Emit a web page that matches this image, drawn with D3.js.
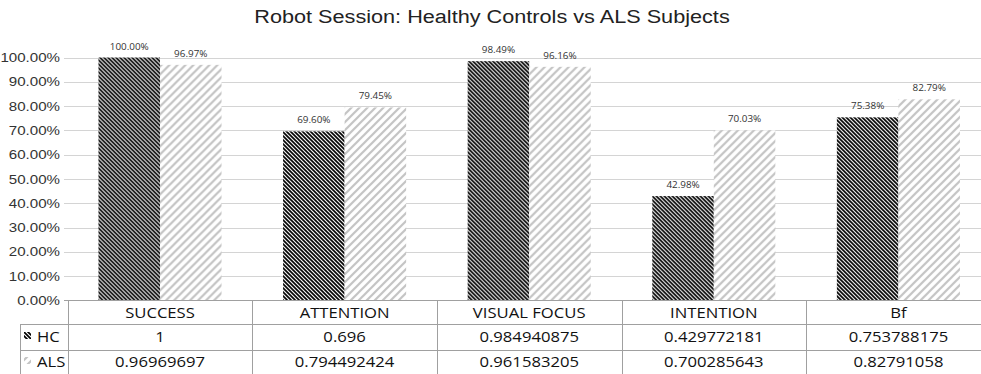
<!DOCTYPE html>
<html>
<head>
<meta charset="utf-8">
<script src="https://cdn.jsdelivr.net/npm/d3@7"></script>
<style>
  html, body { margin: 0; padding: 0; background: #fff; }
  svg { display: block; }
</style>
</head>
<body>
<div id="chart"></div>
<script>
// Chart data
const title = "Robot Session: Healthy Controls vs ALS Subjects";
const categories = ["SUCCESS", "ATTENTION", "VISUAL FOCUS", "INTENTION", "Bf"];
const seriesNames = ["HC", "ALS"];
const hcValues = [1, 0.696, 0.984940875, 0.429772181, 0.753788175];
const alsValues = [0.96969697, 0.794492424, 0.961583205, 0.700285643, 0.82791058];
const yTicks = [0, 0.1, 0.2, 0.3, 0.4, 0.5, 0.6, 0.7, 0.8, 0.9, 1.0];

const W = 981, H = 374;
const SX = 1.19; // horizontal text stretch

const svg = d3.select("#chart").append("svg")
  .attr("width", W).attr("height", H)
  .style("background", "#fff");

// Fill patterns for the two series
const defs = svg.append("defs");
const pHC = defs.append("pattern").attr("id", "pat-hc")
  .attr("patternUnits", "userSpaceOnUse").attr("width", 4).attr("height", 4);
pHC.append("rect").attr("width", 4).attr("height", 4).attr("fill", "#fff");
pHC.append("path").attr("d", "M0,0L4,4M-1,3L1,5M3,-1L5,1")
  .attr("stroke", "#000").attr("stroke-width", 1.7).attr("fill", "none");

const pALS = defs.append("pattern").attr("id", "pat-als")
  .attr("patternUnits", "userSpaceOnUse").attr("width", 8).attr("height", 8);
pALS.append("rect").attr("width", 8).attr("height", 8).attr("fill", "#fff");
pALS.append("path").attr("d", "M0,8L8,0M-2,2L2,-2M6,10L10,6")
  .attr("stroke", "#c4c4c4").attr("stroke-width", 2.2).attr("fill", "none");

const fills = ["url(#pat-hc)", "url(#pat-als)"];
const series = [hcValues, alsValues];

// Scales
const x0 = d3.scaleBand().domain(categories).range([67.7, 990.7])
  .paddingInner(1 / 3).paddingOuter(1 / 6);
const x1 = d3.scaleBand().domain(seriesNames).range([0, x0.bandwidth()]);
const y = d3.scaleLinear().domain([0, 1]).range([300.5, 57.5]);

function stretched(sel, x, yy) {
  return sel.attr("transform", `translate(${x},${yy}) scale(${SX},1)`);
}

// Title
stretched(svg.append("text"), 492, 23)
  .attr("text-anchor", "middle")
  .attr("font-family", "'Liberation Sans', Arial, sans-serif")
  .attr("font-size", 18.2).attr("fill", "#222")
  .text(title);

// Gridlines
svg.append("g").selectAll("line").data(yTicks.filter(d => d > 0)).join("line")
  .attr("x1", 64).attr("x2", W)
  .attr("y1", d => Math.round(y(d)) + 0.5).attr("y2", d => Math.round(y(d)) + 0.5)
  .attr("stroke", "#d4d4d4").attr("stroke-width", 1);

// Y axis labels
const yFmt = d3.format(".2%");
svg.append("g").selectAll("text").data(yTicks).join("text")
  .each(function (d) { stretched(d3.select(this), 60, y(d) + 4.5); })
  .attr("text-anchor", "end")
  .attr("font-family", "'Liberation Sans', Arial, sans-serif")
  .attr("font-size", 12.7).attr("fill", "#333")
  .text(d => yFmt(d));

// Bars
const groups = svg.append("g").selectAll("g").data(categories).join("g")
  .attr("transform", d => `translate(${x0(d)},0)`);
groups.selectAll("rect").data((c, i) => seriesNames.map((s, k) => ({ s, k, v: series[k][i] })))
  .join("rect")
  .attr("x", d => x1(d.s)).attr("width", x1.bandwidth())
  .attr("y", d => y(d.v)).attr("height", d => y(0) - y(d.v))
  .attr("fill", d => fills[d.k]);

// Data labels
groups.selectAll("text").data((c, i) => seriesNames.map((s, k) => ({ s, k, v: series[k][i] })))
  .join("text")
  .each(function (d) { stretched(d3.select(this), x1(d.s) + x1.bandwidth() / 2, y(d.v) - 8); })
  .attr("text-anchor", "middle")
  .attr("font-family", "'Open Sans', sans-serif")
  .attr("font-size", 8.3).attr("fill", "#333")
  .text(d => yFmt(d.v));

// Data table under the plot
const rowBottom = 375;
const tableLeft = 20;
const lineColor = "#a0a0a0";
const tg = svg.append("g");

// horizontal rules
tg.append("line").attr("x1", 64).attr("x2", W).attr("y1", 300.5).attr("y2", 300.5)
  .attr("stroke", lineColor);
[324.5, 350.5].forEach(yy => {
  tg.append("line").attr("x1", tableLeft).attr("x2", W).attr("y1", yy).attr("y2", yy)
    .attr("stroke", lineColor);
});
// vertical rules
tg.append("line").attr("x1", 68.5).attr("x2", 68.5).attr("y1", 300.5).attr("y2", rowBottom)
  .attr("stroke", lineColor);
tg.append("line").attr("x1", tableLeft + 0.5).attr("x2", tableLeft + 0.5).attr("y1", 324.5).attr("y2", rowBottom)
  .attr("stroke", lineColor);
categories.slice(1).forEach(c => {
  const xx = Math.round(x0(c) - x0.step() * x0.paddingInner() / 2) + 0.5;
  tg.append("line").attr("x1", xx).attr("x2", xx).attr("y1", 300.5).attr("y2", rowBottom)
    .attr("stroke", lineColor);
});

const tableFont = "'Open Sans', sans-serif";
// category header row
tg.selectAll("text.cat").data(categories).join("text").attr("class", "cat")
  .each(function (d) { stretched(d3.select(this), x0(d) + x0.bandwidth() / 2, 317.5); })
  .attr("text-anchor", "middle").attr("font-family", tableFont)
  .attr("font-size", 14).attr("fill", "#111").text(d => d);

// value rows
series.forEach((vals, k) => {
  const yy = k === 0 ? 342 : 367;
  tg.selectAll(`text.v${k}`).data(categories).join("text").attr("class", `v${k}`)
    .each(function (d) { stretched(d3.select(this), x0(d) + x0.bandwidth() / 2, yy); })
    .attr("text-anchor", "middle").attr("font-family", tableFont)
    .attr("font-size", 14).attr("fill", "#111")
    .text((d, i) => String(vals[i]));

  // legend key in the row header
  tg.append("rect").attr("x", 24).attr("y", yy - 10).attr("width", 7).attr("height", 7)
    .attr("fill", fills[k]);
  stretched(tg.append("text"), 37, yy)
    .attr("font-family", tableFont).attr("font-size", 14).attr("fill", "#111")
    .text(seriesNames[k]);
});
</script>
</body>
</html>
